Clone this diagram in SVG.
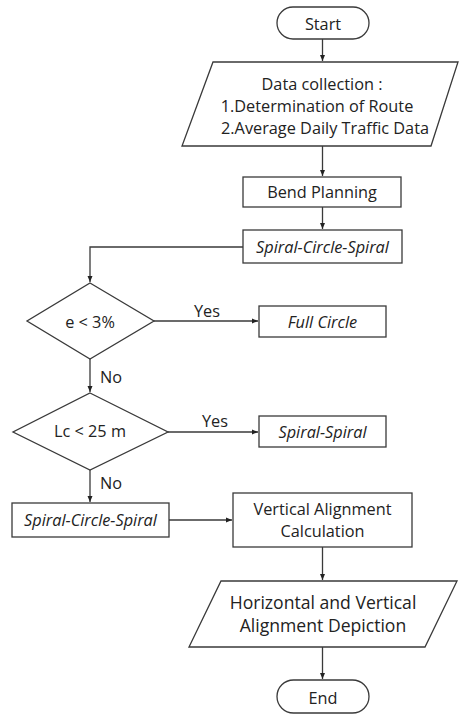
<svg xmlns="http://www.w3.org/2000/svg" width="459" height="715" viewBox="0 0 459 715">
<style>
.s{fill:#fff;stroke:#3a3a3a;stroke-width:1.3}
.t{font-family:"Open Sans",sans-serif;font-size:16.3px;fill:#222;text-anchor:middle;dominant-baseline:central}
.i{font-style:italic}
.b{font-size:17.6px}
.c{fill:none;stroke:#3a3a3a;stroke-width:1.3}
</style>
<defs>
<marker id="a" viewBox="0 0 6 6" refX="6" refY="3" markerWidth="6" markerHeight="6" markerUnits="userSpaceOnUse" orient="auto">
<path d="M0,0.5 L6,3 L0,5.5 Z" fill="#222"/>
</marker>
</defs>
<rect width="459" height="715" fill="#fff"/>
<g id="connectors">
<path class="c" d="M322.5,39 V61" marker-end="url(#a)"/>
<path class="c" d="M322.5,146 V176" marker-end="url(#a)"/>
<path class="c" d="M322.5,207 V229" marker-end="url(#a)"/>
<path class="c" d="M243,247 H90 V282" marker-end="url(#a)"/>
<path class="c" d="M154,321 H258" marker-end="url(#a)"/>
<path class="c" d="M90,359 V392" marker-end="url(#a)"/>
<path class="c" d="M168,432 H258" marker-end="url(#a)"/>
<path class="c" d="M90,470 V502" marker-end="url(#a)"/>
<path class="c" d="M169,520 H232" marker-end="url(#a)"/>
<path class="c" d="M322.5,547 V580" marker-end="url(#a)"/>
<path class="c" d="M322.5,647 V679" marker-end="url(#a)"/>
<text class="t" x="207" y="311">Yes</text>
<text class="t" x="215" y="421">Yes</text>
<text class="t" x="111" y="377">No</text>
<text class="t" x="111" y="483">No</text>
</g>
<g id="start">
<rect class="s" x="277" y="7" width="92" height="32" rx="16"/>
<text class="t" x="323" y="24">Start</text>
</g>
<g id="data">
<polygon class="s" points="213,62 458,62 431,146 182,146"/>
<text class="t" x="322" y="84">Data collection :</text>
<text class="t" x="317" y="106">1.Determination of Route</text>
<text class="t" x="325" y="128">2.Average Daily Traffic Data</text>
</g>
<g id="bend">
<rect class="s" x="243" y="177" width="158" height="30"/>
<text class="t" x="322" y="192">Bend Planning</text>
</g>
<g id="scs1">
<rect class="s" x="243" y="230" width="159" height="33"/>
<text class="t i" x="322.5" y="247">Spiral-Circle-Spiral</text>
</g>
<g id="d1">
<polygon class="s" points="90,283 154,321 90,359 27,321"/>
<text class="t" x="90" y="322">e &lt; 3%</text>
</g>
<g id="fc">
<rect class="s" x="259" y="306" width="127" height="31"/>
<text class="t i" x="322.5" y="322">Full Circle</text>
</g>
<g id="d2">
<polygon class="s" points="90,393 168,432 90,470 13,432"/>
<text class="t" x="90" y="431">Lc &lt; 25 m</text>
</g>
<g id="ss">
<rect class="s" x="259" y="416" width="127" height="31"/>
<text class="t i" x="322.5" y="432">Spiral-Spiral</text>
</g>
<g id="scs2">
<rect class="s" x="12" y="503" width="157" height="34"/>
<text class="t i" x="90.5" y="520">Spiral-Circle-Spiral</text>
</g>
<g id="vac">
<rect class="s" x="233" y="493" width="179" height="54"/>
<text class="t" x="322.5" y="509">Vertical Alignment</text>
<text class="t" x="322.5" y="531">Calculation</text>
</g>
<g id="depict">
<polygon class="s" points="221,581 457,581 425,647 189,647"/>
<text class="t b" x="323" y="602">Horizontal and Vertical</text>
<text class="t b" x="323" y="625">Alignment Depiction</text>
</g>
<g id="end">
<rect class="s" x="277" y="680" width="92" height="33" rx="16.5"/>
<text class="t" x="323" y="698">End</text>
</g>
</svg>
